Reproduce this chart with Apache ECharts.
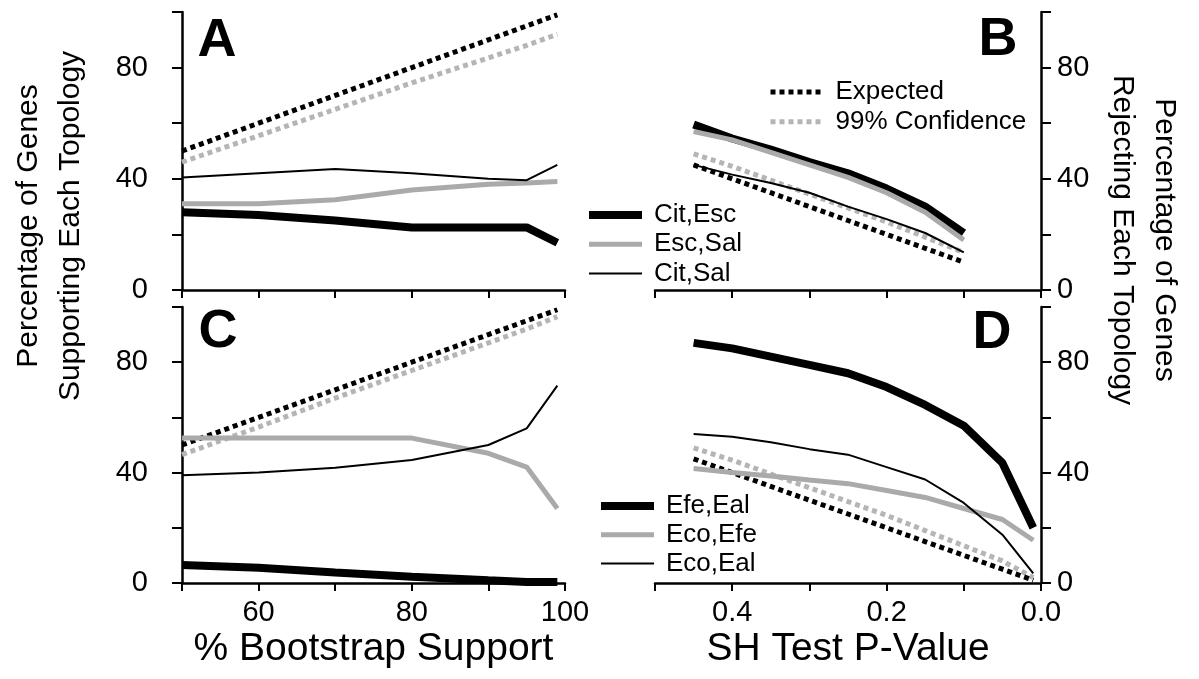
<!DOCTYPE html>
<html>
<head>
<meta charset="utf-8">
<script src="https://cdn.jsdelivr.net/npm/echarts@6/dist/echarts.min.js"></script>
<style>
  html, body { margin: 0; padding: 0; background: #fff; }
  #main { width: 1199px; height: 679px; }
</style>
</head>
<body>
<div id="main"></div>
<script>
// x positions
var bootX = [50, 60, 70, 80, 90, 95, 99];
var pX = [0.45, 0.4, 0.35, 0.3, 0.25, 0.2, 0.15, 0.1];
var pXD = [0.45, 0.4, 0.35, 0.3, 0.25, 0.2, 0.15, 0.1, 0.05, 0.01];

// panel A
var aExpected = [50, 60, 70, 80, 90, 95, 99];
var aConf = [46, 55.5, 65, 74.5, 83.5, 88, 92];
var aCitEsc = [28, 27, 25, 22.5, 22.5, 22.5, 17];
var aEscSal = [31, 31, 32.5, 36, 38, 38.5, 39];
var aCitSal = [40.5, 42, 43.5, 42, 40, 39.5, 45];

// panel B
var bExpected = [45, 40, 35, 30, 25, 20, 15, 10];
var bConf = [49, 44.5, 39.5, 34.5, 29.5, 24.5, 19, 13.5];
var bCitEsc = [59.5, 54.5, 50.5, 46, 42, 36.5, 30, 20.5];
var bEscSal = [57, 54, 49.5, 45, 40.5, 35, 28, 18];
var bCitSal = [45, 41.5, 38.5, 35, 30, 25.5, 20.5, 13.5];

// panel C
var cExpected = [50, 60, 70, 80, 90, 95, 99];
var cConf = [46.5, 56.5, 67, 77, 87, 92, 96.5];
var cEfeEal = [6.5, 5.5, 3.8, 2.3, 1, 0.4, 0.4];
var cEcoEfe = [52.5, 52.5, 52.5, 52.5, 47, 42, 27];
var cEcoEal = [39, 40, 41.8, 44.6, 50, 56, 71.5];

// panel D
var dExpected = [45, 40, 35, 30, 25, 20, 15, 10, 5, 1];
var dConf = [49, 44.5, 39.5, 34.5, 29.5, 24.5, 19, 13.5, 8, 2];
var dEfeEal = [87, 85, 82, 79, 76, 71, 64.5, 57, 43.5, 20];
var dEcoEfe = [41.5, 40, 38.8, 37.3, 36, 33.5, 31, 27, 23, 15.5];
var dEcoEal = [54, 53, 51, 48.5, 46.5, 42, 37.5, 29, 17.5, 3.5];

var FONT = 'Liberation Sans, Arial, sans-serif';

var styles = {
    thick: { color: '#000', width: 8 },
    gray: { color: '#aaaaaa', width: 5 },
    thin: { color: '#000', width: 2 },
    exp: { color: '#000', width: 5, type: [5, 4] },
    conf: { color: '#b5b5b5', width: 5, type: [5, 4] }
};

function mk(name, xs, ys, gi, st) {
    return {
        name: name,
        type: 'line',
        xAxisIndex: gi,
        yAxisIndex: gi,
        symbol: 'none',
        silent: true,
        animation: false,
        color: st.color,
        lineStyle: { color: st.color, width: st.width, type: st.type || 'solid', cap: 'butt' },
        data: xs.map(function (x, i) { return [x, ys[i]]; })
    };
}

var axisLine = { show: true, lineStyle: { color: '#000', width: 2.5 } };

function xAx(gi, kind, labels) {
    var ax = {
        type: 'value',
        gridIndex: gi,
        axisLine: axisLine,
        axisTick: { show: true, length: 8, lineStyle: { color: '#000', width: 2 } },
        splitLine: { show: false },
        axisLabel: { show: labels, fontSize: 29, color: '#000', fontFamily: FONT, margin: 15 }
    };
    if (kind === 'boot') {
        ax.min = 50; ax.max = 100; ax.interval = 10;
        ax.axisLabel.formatter = function (v) { return v % 20 === 0 ? String(v) : ''; };
        if (labels) {
            ax.name = '% Bootstrap Support';
        }
    } else {
        ax.min = 0; ax.max = 0.5; ax.interval = 0.1; ax.inverse = true;
        ax.axisLabel.formatter = function (v) {
            var k = Math.round(v * 10);
            return (k % 2 === 0 && k < 5) ? v.toFixed(1) : '';
        };
        if (labels) {
            ax.name = 'SH Test P-Value';
        }
    }
    if (labels) {
        ax.nameLocation = 'middle';
        ax.nameGap = 47;
        ax.nameTextStyle = { fontSize: 39, color: '#000', fontFamily: FONT };
    }
    return ax;
}

function yAx(gi, pos) {
    return {
        type: 'value',
        gridIndex: gi,
        position: pos,
        min: 0, max: 100, interval: 20,
        axisLine: axisLine,
        axisTick: { show: true, length: 10, lineStyle: { color: '#000', width: 2 } },
        splitLine: { show: false },
        axisLabel: {
            fontSize: 29, color: '#000', fontFamily: FONT,
            margin: pos === 'left' ? 34 : 16,
            formatter: function (v) { return v % 40 === 0 && v < 100 ? String(v) : ''; }
        }
    };
}

function letter(t, x, y) {
    return {
        type: 'text', x: x, y: y, silent: true,
        style: { text: t, font: 'bold 54px ' + FONT, fill: '#000', align: 'center', verticalAlign: 'middle' }
    };
}

var legendText = { fontSize: 26, color: '#000', fontFamily: FONT, padding: [0, 0, 0, 7] };

function legend(names, left, top, gap) {
    return {
        data: names,
        orient: 'vertical', left: left, top: top,
        itemWidth: 53, itemHeight: 20, itemGap: gap,
        selectedMode: false,
        itemStyle: { opacity: 0 },
        lineStyle: { width: 'inherit' },
        textStyle: legendText
    };
}

option = {
    backgroundColor: '#fff',
    animation: false,
    grid: [
        { left: 182, top: 12, width: 383, height: 278 },
        { left: 655, top: 12, width: 386, height: 278 },
        { left: 182, top: 307, width: 383, height: 276 },
        { left: 655, top: 307, width: 386, height: 276 }
    ],
    xAxis: [xAx(0, 'boot', false), xAx(1, 'p', false), xAx(2, 'boot', true), xAx(3, 'p', true)],
    yAxis: [yAx(0, 'left'), yAx(1, 'right'), yAx(2, 'left'), yAx(3, 'right')],
    legend: [
        legend(['Cit,Esc', 'Esc,Sal', 'Cit,Sal'], 580, 197, 3.2),
        legend(['Efe,Eal', 'Eco,Efe', 'Eco,Eal'], 592, 488, 2.7),
        legend(['Expected', '99% Confidence'], 763, 74, 3.7)
    ],
    graphic: [
        letter('A', 217, 41),
        letter('B', 998, 40),
        letter('C', 218, 332),
        letter('D', 992, 333),
        {
            type: 'text', x: 50, y: 226, rotation: Math.PI / 2, silent: true,
            style: {
                text: 'Percentage of Genes\nSupporting Each Topology',
                font: '30px ' + FONT, fill: '#000', lineHeight: 42,
                align: 'center', verticalAlign: 'middle'
            }
        },
        {
            type: 'text', x: 1143, y: 240, rotation: -Math.PI / 2, silent: true,
            style: {
                text: 'Percentage of Genes\nRejecting Each Topology',
                font: '30px ' + FONT, fill: '#000', lineHeight: 42,
                align: 'center', verticalAlign: 'middle'
            }
        }
    ],
    series: [
        mk('Expected', bootX, aExpected, 0, styles.exp),
        mk('99% Confidence', bootX, aConf, 0, styles.conf),
        mk('Cit,Esc', bootX, aCitEsc, 0, styles.thick),
        mk('Esc,Sal', bootX, aEscSal, 0, styles.gray),
        mk('Cit,Sal', bootX, aCitSal, 0, styles.thin),

        mk('99% Confidence', pX, bConf, 1, styles.conf),
        mk('Expected', pX, bExpected, 1, styles.exp),
        mk('Cit,Esc', pX, bCitEsc, 1, styles.thick),
        mk('Esc,Sal', pX, bEscSal, 1, styles.gray),
        mk('Cit,Sal', pX, bCitSal, 1, styles.thin),

        mk('Expected', bootX, cExpected, 2, styles.exp),
        mk('99% Confidence', bootX, cConf, 2, styles.conf),
        mk('Efe,Eal', bootX, cEfeEal, 2, styles.thick),
        mk('Eco,Efe', bootX, cEcoEfe, 2, styles.gray),
        mk('Eco,Eal', bootX, cEcoEal, 2, styles.thin),

        mk('99% Confidence', pXD, dConf, 3, styles.conf),
        mk('Expected', pXD, dExpected, 3, styles.exp),
        mk('Efe,Eal', pXD, dEfeEal, 3, styles.thick),
        mk('Eco,Efe', pXD, dEcoEfe, 3, styles.gray),
        mk('Eco,Eal', pXD, dEcoEal, 3, styles.thin)
    ]
};

var myChart = echarts.init(document.getElementById('main'));
myChart.setOption(option);
</script>
</body>
</html>
